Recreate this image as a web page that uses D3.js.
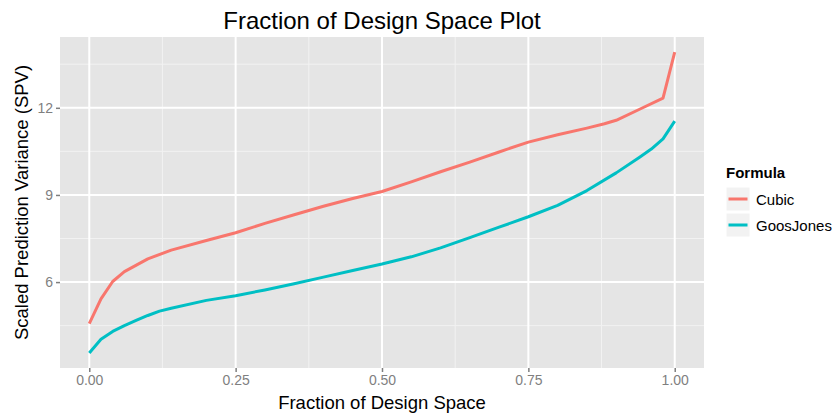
<!DOCTYPE html>
<html>
<head>
<meta charset="utf-8">
<script src="https://cdn.jsdelivr.net/npm/d3@7"></script>
<style>
  html, body { margin: 0; padding: 0; background: #fff; }
  svg { display: block; font-family: "Liberation Sans", Arial, Helvetica, sans-serif; }
</style>
</head>
<body>
<svg id="chart" width="834" height="414"></svg>
<script>
// Fraction of design space (x) for each formula
const cubicFraction = [0, 0.02, 0.04, 0.06, 0.10, 0.14, 0.20, 0.25, 0.30, 0.35, 0.40, 0.45, 0.50,
  0.55, 0.60, 0.65, 0.70, 0.75, 0.80, 0.85, 0.88, 0.90, 0.94, 0.98, 1.00];
const cubicSPV = [4.57, 5.42, 6.02, 6.36, 6.80, 7.10, 7.43, 7.70, 8.02, 8.32, 8.61, 8.88, 9.12,
  9.45, 9.80, 10.13, 10.48, 10.82, 11.07, 11.30, 11.45, 11.57, 11.95, 12.33, 13.92];

const goosFraction = [0, 0.02, 0.04, 0.06, 0.08, 0.10, 0.12, 0.14, 0.20, 0.25, 0.30, 0.35, 0.40,
  0.45, 0.50, 0.55, 0.60, 0.65, 0.70, 0.75, 0.80, 0.85, 0.90, 0.94, 0.96, 0.98, 1.00];
const goosSPV = [3.56, 4.03, 4.30, 4.50, 4.68, 4.85, 5.00, 5.10, 5.37, 5.53, 5.73, 5.94, 6.17,
  6.40, 6.62, 6.87, 7.18, 7.53, 7.89, 8.25, 8.64, 9.15, 9.76, 10.30, 10.58, 10.93, 11.54];

const formulas = ["Cubic", "GoosJones"];
const formulaColors = ["#F8766D", "#00BFC4"];
const xTicks = [0, 0.25, 0.5, 0.75, 1.0];
const xTickLabels = ["0.00", "0.25", "0.50", "0.75", "1.00"];
const yTicks = [6, 9, 12];
const yTickLabels = ["6", "9", "12"];

const series = [
  { name: formulas[0], color: formulaColors[0], pts: cubicFraction.map((f, i) => [f, cubicSPV[i]]) },
  { name: formulas[1], color: formulaColors[1], pts: goosFraction.map((f, i) => [f, goosSPV[i]]) }
];

const svg = d3.select("#chart");
const panel = { left: 60, top: 37, right: 704, bottom: 368 };

// ggplot-style 5% expansion of data range
const allY = cubicSPV.concat(goosSPV);
const yMin = d3.min(allY), yMax = d3.max(allY);
const yPad = (yMax - yMin) * 0.05;
const x = d3.scaleLinear().domain([-0.05, 1.05]).range([panel.left, panel.right]);
const y = d3.scaleLinear().domain([yMin - yPad, yMax + yPad]).range([panel.bottom, panel.top]);

// Panel background
svg.append("rect")
  .attr("x", panel.left).attr("y", panel.top)
  .attr("width", panel.right - panel.left).attr("height", panel.bottom - panel.top)
  .attr("fill", "#E5E5E5");

const grid = svg.append("g");
// Minor grid lines (midpoints between major breaks)
const xMinor = [0.125, 0.375, 0.625, 0.875];
const yMinor = [4.5, 7.5, 10.5, 13.5];
grid.selectAll(".xminor").data(xMinor).join("line")
  .attr("x1", d => x(d)).attr("x2", d => x(d))
  .attr("y1", panel.top).attr("y2", panel.bottom)
  .attr("stroke", "#F2F2F2").attr("stroke-width", 1);
grid.selectAll(".yminor").data(yMinor).join("line")
  .attr("y1", d => y(d)).attr("y2", d => y(d))
  .attr("x1", panel.left).attr("x2", panel.right)
  .attr("stroke", "#F2F2F2").attr("stroke-width", 1);
// Major grid lines
grid.selectAll(".xmajor").data(xTicks).join("line")
  .attr("x1", d => x(d)).attr("x2", d => x(d))
  .attr("y1", panel.top).attr("y2", panel.bottom)
  .attr("stroke", "#FFFFFF").attr("stroke-width", 2);
grid.selectAll(".ymajor").data(yTicks).join("line")
  .attr("y1", d => y(d)).attr("y2", d => y(d))
  .attr("x1", panel.left).attr("x2", panel.right)
  .attr("stroke", "#FFFFFF").attr("stroke-width", 2);

// Series lines
const line = d3.line().x(d => x(d[0])).y(d => y(d[1]));
svg.append("g").selectAll("path").data(series).join("path")
  .attr("d", d => line(d.pts))
  .attr("fill", "none")
  .attr("stroke", d => d.color)
  .attr("stroke-width", 3)
  .attr("stroke-linejoin", "round");

// Axes
const xAxis = svg.append("g")
  .attr("transform", `translate(0,${panel.bottom})`)
  .call(d3.axisBottom(x).tickValues(xTicks).tickFormat((d, i) => xTickLabels[i]).tickSize(4).tickPadding(3));
const yAxis = svg.append("g")
  .attr("transform", `translate(${panel.left},0)`)
  .call(d3.axisLeft(y).tickValues(yTicks).tickFormat((d, i) => yTickLabels[i]).tickSize(4).tickPadding(3));
[xAxis, yAxis].forEach(a => {
  a.select(".domain").remove();
  a.selectAll(".tick line").attr("stroke", "#7F7F7F").attr("stroke-width", 1.5);
  a.selectAll(".tick text").attr("fill", "#7F7F7F").attr("font-size", "14px")
    .attr("font-family", "'Liberation Sans', Arial, sans-serif");
});

// Titles
svg.append("text")
  .attr("x", (panel.left + panel.right) / 2).attr("y", 29)
  .attr("text-anchor", "middle").attr("font-size", "24px").attr("fill", "#000")
  .text("Fraction of Design Space Plot");
svg.append("text")
  .attr("x", (panel.left + panel.right) / 2).attr("y", 409)
  .attr("text-anchor", "middle").attr("font-size", "18.5px").attr("fill", "#000")
  .text("Fraction of Design Space");
svg.append("text")
  .attr("transform", `translate(28,${(panel.top + panel.bottom) / 2}) rotate(-90)`)
  .attr("text-anchor", "middle").attr("font-size", "18.5px").attr("fill", "#000")
  .text("Scaled Prediction Variance (SPV)");

// Legend
const legend = svg.append("g").attr("transform", "translate(726,0)");
legend.append("text")
  .attr("x", 0).attr("y", 178)
  .attr("font-size", "15px").attr("font-weight", "bold").attr("fill", "#000")
  .text("Formula");
const items = legend.selectAll(".item").data(series).join("g")
  .attr("transform", (d, i) => `translate(0,${187 + i * 26})`);
items.append("rect")
  .attr("width", 24).attr("height", 24)
  .attr("fill", "#F2F2F2").attr("stroke", "#FFFFFF").attr("stroke-width", 1);
items.append("line")
  .attr("x1", 2.5).attr("x2", 21.5).attr("y1", 12).attr("y2", 12)
  .attr("stroke", d => d.color).attr("stroke-width", 3);
items.append("text")
  .attr("x", 30).attr("y", 18)
  .attr("font-size", "15px").attr("fill", "#000")
  .text(d => d.name);
</script>
</body>
</html>
